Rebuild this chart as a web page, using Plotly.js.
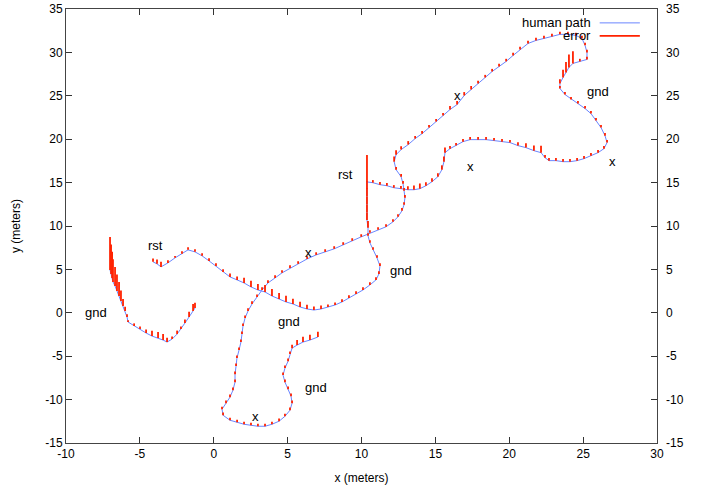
<!DOCTYPE html>
<html>
<head>
<meta charset="utf-8">
<script src="https://cdn.plot.ly/plotly-3.0.1.min.js"></script>
<style>html,body{margin:0;padding:0;background:#fff;}#chart{width:713px;height:489px;}</style>
</head>
<body>
<div id="chart"></div>
<script>
// ---- human path, run 1 (left "gnd" run) ----
const run1X = [-7.02,-6.95,-6.88,-6.82,-6.68,-6.55,-6.41,-6.28,-6.14,-6.00,-5.87,-5.80,-5.39,-4.99,-4.58,-4.18,-3.77,-3.43,-3.16,-2.82,-2.48,-2.22,-1.95,-1.67,-1.40,-1.27];
const run1Y = [4.94,4.48,4.02,3.56,3.09,2.52,1.94,1.36,0.79,0.21,-0.48,-1.06,-1.52,-1.87,-2.33,-2.68,-2.91,-3.14,-3.37,-3.03,-2.45,-1.87,-1.18,-0.48,0.21,0.55];
const run1Err = [3.8,3.4,3.0,2.6,2.2,1.9,1.6,1.2,0.8,0.5,0.3,0.2,0.3,0.3,0.4,0.6,0.7,0.7,0.5,0.3,0.4,0.3,0.4,0.6,0.8,0.6];

// ---- human path, run 2 ----
const run2X = [-4.11,-3.84,-3.57,-3.10,-2.62,-2.15,-1.74,-1.27,-0.79,-0.32,0.15,0.63,1.10,1.58,2.05,2.52,2.99,3.47,3.94,4.42,4.89,5.36,5.84,6.31,6.78,7.26,7.73,8.21,8.68,9.15,9.63,10.10,10.57,10.98,11.18,11.25,11.05,10.78,10.57,10.44,10.44,10.37,10.37,10.37,10.37,10.37,10.37,
 10.77,11.25,11.72,12.19,12.67,13.14,13.55,13.95,14.36,14.77,15.17,15.44,15.58,15.65,15.99,16.40,16.87,17.35,17.89,18.43,18.97,19.51,20.05,20.59,21.13,21.67,22.15,22.42,22.69,23.16,23.64,24.11,24.59,25.06,25.53,26.01,26.41,26.62,26.48,26.21,25.87,25.53,25.13,24.65,24.18,23.77,23.43,23.43,23.64,23.84,24.04,24.31,24.78,25.26,25.26,25.13,24.92,24.51,23.97,23.43,22.89,22.35,21.81,21.27,20.73,20.26,19.79,19.31,18.84,18.37,17.89,17.42,16.95,16.47,15.99,15.52,15.05,14.57,14.10,13.63,13.16,12.68,12.34,12.21,12.34,12.68,12.81,12.88,12.94,12.88,12.74,12.47,12.13,11.66,11.12,10.57,9.98,9.37,8.76,8.15,7.54,6.93,6.32,5.71,5.16,4.62,4.15,3.67,3.27,2.93,2.59,2.32,2.12,1.98,1.91,1.84,1.71,1.57,1.51,1.44,1.44,1.30,1.10,0.83,0.56,0.63,1.10,1.58,2.05,2.52,2.99,3.47,3.94,4.42,4.82,5.16,5.30,5.23,5.03,4.82,4.69,4.82,5.03,5.16,5.30,5.64,6.04,6.51,7.05];
const run2Y = [5.87,5.64,5.29,5.75,6.33,6.79,7.25,7.02,6.56,5.98,5.40,4.71,4.13,3.79,3.44,2.98,2.63,2.40,1.94,1.59,1.25,1.02,0.67,0.44,0.32,0.44,0.67,0.90,1.25,1.71,2.17,2.63,3.21,3.79,4.48,5.40,6.33,7.25,8.06,8.87,9.79,10.68,11.61,12.53,13.45,14.26,15.08,
 14.99,14.76,14.64,14.41,14.30,14.18,14.18,14.30,14.64,15.10,15.68,16.49,17.41,18.45,18.91,19.26,19.72,19.95,19.95,19.95,19.84,19.72,19.61,19.26,19.03,18.68,18.45,17.87,17.53,17.53,17.41,17.41,17.53,17.76,18.10,18.45,18.91,19.61,20.41,21.34,22.15,22.95,23.53,24.11,24.57,25.15,25.84,26.42,27.11,27.69,28.27,28.73,28.96,29.19,30.00,30.81,31.61,31.96,32.08,32.08,31.84,31.61,31.38,31.03,30.34,29.65,28.96,28.38,27.80,27.11,26.42,25.73,25.03,23.99,23.42,22.72,22.03,21.34,20.64,20.07,19.38,18.80,18.22,17.41,16.49,15.68,14.87,14.07,13.26,12.45,11.76,11.06,10.48,9.91,9.56,9.21,8.75,8.29,7.83,7.37,7.02,6.67,6.21,5.64,5.17,4.60,4.02,3.44,2.63,1.82,1.02,0.21,-0.60,-1.52,-2.45,-3.37,-4.30,-5.22,-6.14,-7.07,-7.99,-8.91,-9.72,-10.41,-11.11,-11.80,-12.38,-12.61,-12.84,-12.96,-13.07,-13.07,-12.84,-12.49,-11.92,-11.22,-10.41,-9.60,-8.80,-7.99,-7.18,-6.37,-5.57,-4.76,-4.07,-3.72,-3.37,-3.14,-2.79];
const run2Err = [0.4,0.5,0.6,0.3,0.2,0.3,0.3,0.3,0.3,0.3,0.3,0.3,0.4,0.4,0.6,0.7,0.7,0.8,0.8,0.7,0.7,0.6,0.6,0.5,0.4,0.4,0.3,0.3,0.3,0.3,0.3,0.3,0.3,0.3,0.3,0.3,0.3,0.3,0.3,0.3,0.8,0.9,0.9,0.9,0.9,0.9,3.1,
 0.3,0.3,0.3,0.3,0.3,0.4,0.5,0.6,0.4,0.4,0.4,0.5,0.6,0.6,0.3,0.3,0.3,0.3,0.3,0.3,0.3,0.3,0.3,0.4,0.5,0.6,0.8,0.3,0.3,0.3,0.3,0.3,0.3,0.3,0.3,0.3,0.3,0.3,0.3,0.3,0.3,0.3,0.3,0.3,0.3,0.3,0.3,0.5,0.9,1.2,1.5,1.4,0.3,0.3,0.3,0.3,0.3,0.3,0.3,0.3,0.3,0.3,0.3,0.3,0.3,0.3,0.3,0.3,0.3,0.3,0.3,0.4,0.4,0.4,0.4,0.3,0.3,0.3,0.3,0.3,0.4,0.4,0.5,0.6,0.3,0.3,0.3,0.3,0.3,0.3,0.3,0.3,0.3,0.3,0.3,0.3,0.3,0.3,0.3,0.3,0.3,0.3,0.3,0.3,0.3,0.3,0.3,0.3,0.3,0.3,0.3,0.3,0.3,0.3,0.3,0.3,0.3,0.3,0.3,0.3,0.3,0.3,0.3,0.3,0.3,0.3,0.3,0.3,0.3,0.3,0.3,0.3,0.3,0.3,0.3,0.3,0.3,0.3,0.3,0.3,0.3,0.3,0.3,0.3,0.4,0.6,0.6,0.6,0.6,0.4,0.3];

// ---- annotation labels ----
const labelText = ["x","x","x","x","x","gnd","gnd","gnd","gnd","gnd","rst","rst"];
const labelX = [16.5,17.4,27.0,6.4,2.8,26.0,12.7,5.1,6.9,-8.0,8.9,-3.95];
const labelY = [25.0,16.9,17.4,7.0,-12.0,25.5,4.9,-1.05,-8.6,0.0,15.9,7.7];

const axisTicks = [-15,-10,-5,0,5,10,15,20,25,30,35];
const xTicks = [-10,-5,0,5,10,15,20,25,30];

// build traces
const pathX = run1X.concat([null], run2X);
const pathY = run1Y.concat([null], run2Y);
const errX = [], errY = [];
function addErr(xs, ys, es){
  for (let i = 0; i < xs.length; i++){
    errX.push(xs[i], xs[i], null);
    errY.push(ys[i], ys[i] + es[i], null);
  }
}
addErr(run1X, run1Y, run1Err);
addErr(run2X, run2Y, run2Err);

const FONT = "Liberation Sans, Arial, sans-serif";
const traces = [
  {x: pathX, y: pathY, mode: 'lines', line: {color: '#6a86ff', width: 1}, showlegend: false, hoverinfo: 'skip', connectgaps: false},
  {x: errX, y: errY, mode: 'lines', line: {color: '#ff2200', width: 1.8}, showlegend: false, hoverinfo: 'skip', connectgaps: false},
  {x: [null], y: [null], yaxis: 'y2', mode: 'lines', showlegend: false, hoverinfo: 'skip'}
];

const annotations = labelText.map((t, i) => ({
  x: labelX[i], y: labelY[i], text: t, showarrow: false,
  font: {family: FONT, size: 13, color: '#000'}, xanchor: 'center', yanchor: 'middle'
}));
annotations.push(
  {xref: 'paper', yref: 'paper', x: 0.891, y: 0.968, text: 'human path', showarrow: false, xanchor: 'right', yanchor: 'middle', font: {family: FONT, size: 13, color: '#000'}},
  {xref: 'paper', yref: 'paper', x: 0.891, y: 0.938, text: 'error', showarrow: false, xanchor: 'right', yanchor: 'middle', font: {family: FONT, size: 13, color: '#000'}}
);

const shapes = [
  {type: 'line', xref: 'paper', yref: 'paper', x0: 0.903, x1: 0.971, y0: 0.968, y1: 0.968, line: {color: '#6a86ff', width: 1}},
  {type: 'line', xref: 'paper', yref: 'paper', x0: 0.903, x1: 0.971, y0: 0.938, y1: 0.938, line: {color: '#ff2200', width: 1.6}}
];

const layout = {
  width: 713, height: 489,
  margin: {l: 66, r: 56, t: 9, b: 46},
  paper_bgcolor: '#fff', plot_bgcolor: '#fff',
  font: {family: FONT, size: 12, color: '#000'},
  showlegend: false,
  xaxis: {
    range: [-10, 30], tickvals: xTicks, ticktext: xTicks.map(String),
    ticks: 'inside', ticklen: 6, tickcolor: '#333', showline: true, linecolor: '#444', linewidth: 1,
    mirror: 'ticks', showgrid: false, zeroline: false,
    title: {text: 'x (meters)', font: {family: FONT, size: 12}, standoff: 13},
    tickfont: {family: FONT, size: 12}
  },
  yaxis: {
    range: [-15, 35], tickvals: axisTicks, ticktext: axisTicks.map(String),
    ticks: 'inside', ticklen: 6, tickcolor: '#333', showline: true, linecolor: '#444', linewidth: 1,
    mirror: 'ticks', showgrid: false, zeroline: false,
    title: {text: 'y (meters)', font: {family: FONT, size: 12}, standoff: 22},
    tickfont: {family: FONT, size: 12}
  },
  yaxis2: {
    overlaying: 'y', side: 'right', range: [-15, 35], tickvals: axisTicks, ticktext: axisTicks.map(String),
    ticks: 'inside', ticklen: 6, tickcolor: '#333', showline: false, showgrid: false, zeroline: false,
    ticklabelstandoff: 8,
    tickfont: {family: FONT, size: 12}
  },
  annotations: annotations,
  shapes: shapes
};

Plotly.newPlot('chart', traces, layout, {staticPlot: true, displayModeBar: false});
</script>
</body>
</html>
